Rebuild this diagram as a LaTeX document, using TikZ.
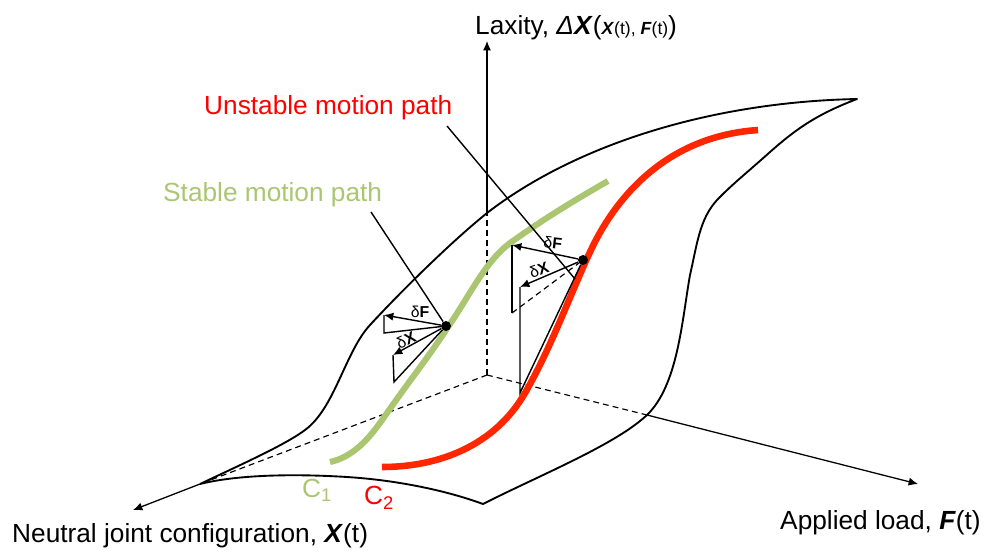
\documentclass[tikz,border=0pt]{standalone}
\usepackage{fontspec}
\setmainfont{Liberation Sans}
\usetikzlibrary{arrows.meta,positioning,calc}
\definecolor{stablegreen}{RGB}{171,198,112}
\definecolor{unstablered}{RGB}{255,38,0}
\tikzset{
  surf/.style={line width=1.6pt,line join=round},
  axisline/.style={line width=1.1pt,-{Latex[length=8pt,width=7pt]}},
  hidden/.style={line width=1pt,dash pattern=on 5pt off 3.5pt},
  thin line/.style={line width=1.2pt},
  vecline/.style={line width=1.2pt,-{Latex[length=8pt,width=7pt]}},
  dotnode/.style={circle,fill=black,inner sep=0pt,minimum size=8.5pt},
  lbl/.style={inner sep=0pt,font=\fontsize{22.4}{24}\selectfont},
  dlbl/.style={inner sep=0pt,font=\fontsize{13.5}{14}\selectfont},
}
\begin{document}
\begin{tikzpicture}[x=0.03cm,y=-0.03cm]
  \useasboundingbox (0,0) rectangle (987,553);
  % axes
  \coordinate (orig) at (487,375);
  \coordinate (ztop) at (487,41);
  \coordinate (zmid) at (487,213);
  \coordinate (xend) at (133,510);
  \coordinate (xmid) at (200,484);
  \coordinate (fend) at (918,484);
  \coordinate (fmid) at (647,415);
  \coordinate (corner) at (857,99);
  \coordinate (front) at (483,504);
  \draw[hidden] (orig) -- (zmid);
  \draw[axisline] (zmid) -- (ztop);
  \draw[hidden] (orig) -- (xmid);
  \draw[axisline] (xmid) -- (xend);
  \draw[hidden] (orig) -- (fmid);
  \draw[axisline] (fmid) -- (fend);
  % surface
  \draw[surf] (xmid) .. controls (240,465) and (285,445) .. (305,430)
    .. controls (335,408) and (345,352) .. (370,325)
    .. controls (393,300) and (445,247) .. (zmid)
    .. controls (575,145) and (710,102) .. (corner)
    .. controls (815,115) and (795,130) .. (770,152)
    .. controls (750,170) and (735,182) .. (722,195)
    .. controls (700,215) and (698,240) .. (690,275)
    .. controls (682,320) and (678,385) .. (fmid)
    .. controls (615,445) and (540,475) .. (front)
    .. controls (445,490) and (395,480) .. (347,477)
    .. controls (300,474) and (240,474) .. (xmid);
  % motion paths
  \draw[stablegreen,line width=5.2pt] (330,462) .. controls (358,456) and (375,430) .. (387,413)
    .. controls (410,380) and (430,355) .. (448,327)
    .. controls (470,295) and (485,262) .. (510,243)
    .. controls (545,218) and (575,200) .. (608,181);
  \draw[unstablered,line width=5.6pt] (382,467) .. controls (440,467) and (495,445) .. (525,393)
    .. controls (551,348) and (570,295) .. (590,252)
    .. controls (608,213) and (655,137) .. (758,130);
  % points
  \node[dotnode] (ptS) at (446,326) {};
  \node[dotnode] (ptU) at (583,260) {};
  % leaders
  \node[lbl,text=stablegreen,anchor=west] (stablelbl) at (163,195) {Stable motion path};
  \node[lbl,text=red,anchor=west] (unstablelbl) at (204,108) {Unstable motion path};
  \coordinate (leadS) at (371,212);
  \coordinate (leadU) at (447,126);
  \coordinate (leadUend) at (575,279);
  \draw[thin line] (leadS) -- (ptS);
  \draw[thin line] (leadU) -- (leadUend);
  % stable triangles
  \coordinate (sF) at (384,315);
  \coordinate (sFb) at (384,333);
  \coordinate (sX) at (393,355);
  \coordinate (sXb) at (394,382);
  \draw[vecline] (ptS) -- (sF);
  \draw[thin line] (sF) -- (sFb) -- (ptS);
  \draw[vecline] (ptS) -- (sX);
  \draw[thin line] (sX) -- (sXb) -- (ptS);
  \node[dlbl] (sFlbl) at (420,312) {δ\textbf{F}};
  \node[dlbl,rotate=25] (sXlbl) at (406,340) {δ\textbf{X}};
  % unstable triangles
  \coordinate (uF) at (512,245);
  \coordinate (uFb) at (512,313);
  \coordinate (uX) at (520,287);
  \coordinate (uXb) at (520,393);
  \draw[vecline] (ptU) -- (uF);
  \draw[thin line] (uF) -- (uFb);
  \draw[hidden] (uFb) -- (ptU);
  \draw[vecline] (ptU) -- (uX);
  \draw[thin line] (uX) -- (uXb) -- (ptU);
  \node[dlbl,rotate=-6] (uFlbl) at (553,243) {δ\textbf{F}};
  \node[dlbl,rotate=20] (uXlbl) at (539,270) {δ\textbf{X}};
  % axis labels
  \node[lbl,anchor=west] (zlbl) at (475,28) {Laxity, \textit{Δ\textbf{X}}(\fontsize{15}{18}\selectfont\textit{\textbf{X}}(t), \textit{\textbf{F}}(t)\fontsize{22.4}{24}\selectfont)};
  \node[lbl,anchor=west] (xlbl) at (12,536) {Neutral joint configuration, \textit{\textbf{X}}(t)};
  \node[lbl,anchor=west] (flbl) at (780,523) {Applied load, \textit{\textbf{F}}(t)};
  \node[lbl,text=stablegreen,anchor=west] (cone) at (302,490) {C\textsubscript{1}};
  \node[lbl,text=red,anchor=west] (ctwo) at (364,498) {C\textsubscript{2}};
\end{tikzpicture}
\end{document}
